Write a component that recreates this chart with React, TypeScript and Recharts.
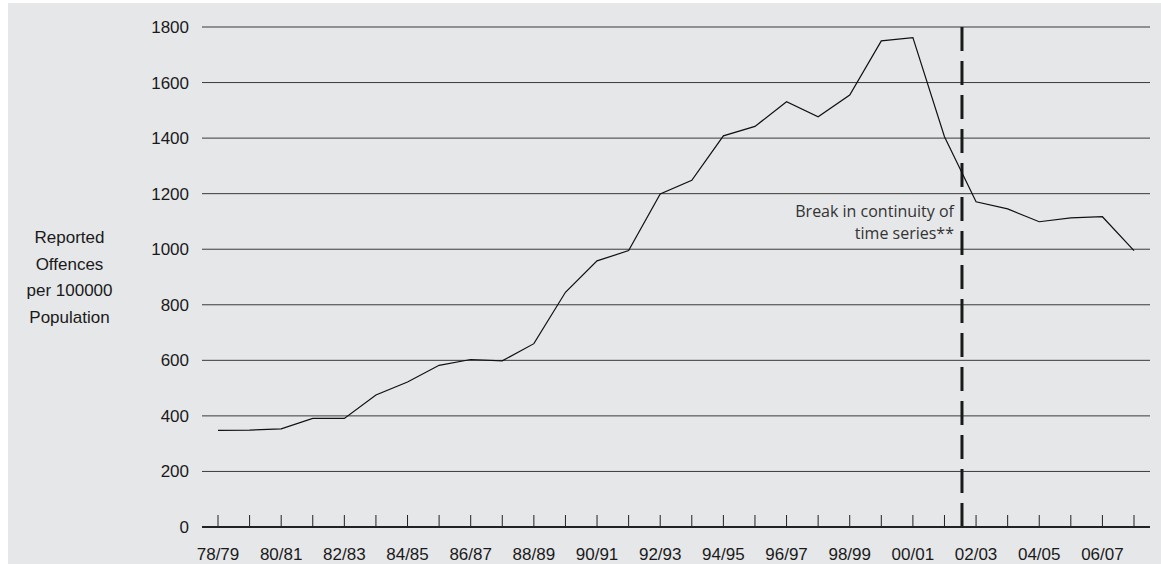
import { LineChart, Line, XAxis, YAxis, CartesianGrid, ReferenceLine } from "recharts";

const years = [
  "78/79", "79/80", "80/81", "81/82", "82/83", "83/84", "84/85", "85/86", "86/87", "87/88",
  "88/89", "89/90", "90/91", "91/92", "92/93", "93/94", "94/95", "95/96", "96/97", "97/98",
  "98/99", "99/00", "00/01", "01/02", "02/03", "03/04", "04/05", "05/06", "06/07", "07/08",
];
const offences = [
  348, 349, 353, 391, 391, 475, 522, 582, 603, 598,
  660, 845, 958, 995, 1199, 1248, 1408, 1442, 1531, 1477,
  1555, 1750, 1762, 1405, 1171, 1145, 1099, 1113, 1117, 995,
];
const yTicks = [0, 200, 400, 600, 800, 1000, 1200, 1400, 1600, 1800];
const yTitle = ["Reported", "Offences", "per 100000", "Population"];
const breakLabel = ["Break in continuity of", "time series**"];
// break falls between 01/02 and 02/03
const breakAt = 23.55;

const data = years.map((year, i) => ({ year, idx: i, value: offences[i] }));

const FONT = "'Liberation Sans', Arial, sans-serif";

const XTick = (props: any) => {
  const { x, y, payload, index } = props;
  return (
    <g>
      <line x1={x} x2={x} y1={y} y2={y - 12} stroke="#222" strokeWidth={1} />
      {index % 2 === 0 && (
        <text x={x} y={y + 33} textAnchor="middle" fontSize={17} fontFamily={FONT} fill="#1a1a1a">
          {payload.value}
        </text>
      )}
    </g>
  );
};

const YTitle = (props: any) => {
  const vb = props.viewBox || { x: 0, y: 0, width: 0, height: 0 };
  const cx = vb.x + 61.5;
  const cy = vb.y + vb.height / 2;
  return (
    <text textAnchor="middle" fontSize={17} fontFamily={FONT} fill="#1a1a1a">
      {yTitle.map((t, i) => (
        <tspan key={t} x={cx} y={cy - 40 + 6 + i * 26.7}>
          {t}
        </tspan>
      ))}
    </text>
  );
};

const BreakLabel = (props: any) => {
  const vb = props.viewBox || { x: 0, y: 0 };
  return (
    <text textAnchor="end" fontSize={16} fontFamily="'Open Sans', sans-serif" fill="#333">
      {breakLabel.map((t, i) => (
        <tspan key={t} x={vb.x - 8} y={vb.y + 190 + i * 22}>
          {t}
        </tspan>
      ))}
    </text>
  );
};

export default function App() {
  return (
    <div style={{ position: "absolute", left: 8, top: 3, width: 1153, height: 561, background: "#e6e7e9" }}>
      <LineChart width={1153} height={561} data={data} margin={{ top: 24, right: 11, bottom: 0, left: 0 }}>
        <CartesianGrid horizontal vertical={false} stroke="#3a3a3a" strokeWidth={1} />
        <XAxis
          dataKey="year"
          interval={0}
          height={37}
          padding={{ left: 16, right: 16 }}
          tickLine={false}
          tickSize={0}
          tickMargin={0}
          axisLine={{ stroke: "#222", strokeWidth: 1.8 }}
          tick={<XTick />}
        />
        <XAxis xAxisId="pos" type="number" dataKey="idx" domain={[-0.5, 29.5]} hide />
        <YAxis
          width={194}
          domain={[0, 1800]}
          ticks={yTicks}
          axisLine={false}
          tickLine={false}
          tickSize={0}
          tickMargin={13}
          tick={{ fontSize: 17, fontFamily: FONT, fill: "#1a1a1a" }}
          label={<YTitle />}
        />
        <ReferenceLine
          xAxisId="pos"
          x={breakAt}
          stroke="#1a1a1a"
          strokeWidth={3}
          strokeDasharray="24 10"
          label={<BreakLabel />}
        />
        <Line type="linear" dataKey="value" stroke="#111" strokeWidth={1.2} dot={false} isAnimationActive={false} />
      </LineChart>
    </div>
  );
}
